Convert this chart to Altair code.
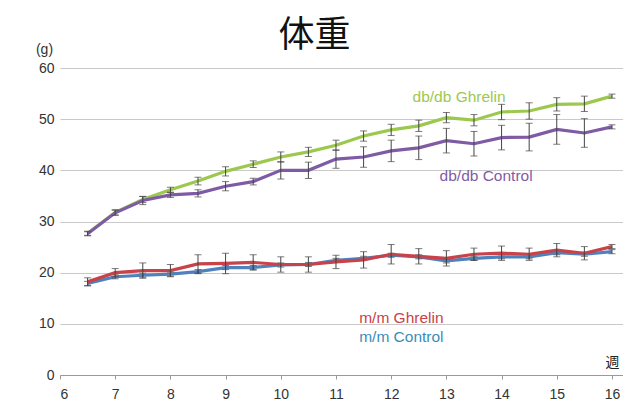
import altair as alt
import pandas as pd

# Age in weeks at each weighing
weeks = [6.5, 7, 7.5, 8, 8.5, 9, 9.5, 10, 10.5, 11, 11.5, 12, 12.5, 13, 13.5, 14, 14.5, 15, 15.5, 16]

# Mean body weight (g) and error (g) per group
db_ghrelin = [27.7, 31.8, 34.3, 36.2, 37.9, 39.8, 41.2, 42.6, 43.6, 44.9, 46.7, 47.9, 48.7, 50.3, 49.8, 51.4, 51.6, 52.9, 53.0, 54.5]
db_ghrelin_err = [0.4, 0.5, 0.6, 0.5, 0.75, 0.9, 0.65, 1.0, 0.9, 1.0, 1.0, 1.1, 1.1, 1.0, 1.1, 1.5, 1.6, 1.3, 1.5, 0.4]

db_control = [27.6, 31.7, 34.1, 35.2, 35.5, 36.9, 37.8, 40.0, 40.0, 42.2, 42.6, 43.8, 44.4, 45.8, 45.2, 46.4, 46.5, 48.0, 47.3, 48.5]
db_control_err = [0.4, 0.5, 0.8, 0.5, 0.7, 0.9, 0.65, 1.7, 1.6, 1.8, 2.0, 2.1, 2.3, 2.4, 2.4, 2.4, 2.7, 2.9, 2.8, 0.4]

mm_ghrelin = [18.2, 20.0, 20.4, 20.4, 21.7, 21.8, 22.0, 21.6, 21.6, 22.1, 22.5, 23.6, 23.2, 22.8, 23.6, 23.8, 23.6, 24.4, 23.8, 25.1]
mm_ghrelin_err = [0.8, 0.8, 1.5, 1.2, 1.8, 2.0, 1.5, 1.5, 1.5, 1.3, 1.6, 1.9, 1.5, 1.5, 1.2, 1.4, 1.2, 1.3, 1.3, 0.4]

mm_control = [17.9, 19.2, 19.5, 19.7, 20.2, 21.0, 21.0, 21.5, 21.6, 22.4, 22.8, 23.4, 23.1, 22.3, 22.8, 23.1, 23.1, 23.9, 23.6, 24.1]
mm_control_err = [0.4, 0.4, 0.4, 0.4, 0.4, 0.4, 0.4, 0.4, 0.4, 0.4, 0.4, 0.4, 0.4, 0.4, 0.4, 0.4, 0.4, 0.4, 0.4, 0.4]

x_ticks = [6, 6.5, 7, 7.5, 8, 8.5, 9, 9.5, 10, 10.5, 11, 11.5, 12, 12.5, 13, 13.5, 14, 14.5, 15, 15.5, 16]
y_ticks = [0, 10, 20, 30, 40, 50, 60]

# Drawing order: bottom to top
series = [
    ("m/m Control", mm_control, mm_control_err, "#4F81BD"),
    ("m/m Ghrelin", mm_ghrelin, mm_ghrelin_err, "#C8424A"),
    ("db/db Ghrelin", db_ghrelin, db_ghrelin_err, "#9CC84E"),
    ("db/db Control", db_control, db_control_err, "#7F5BA6"),
]

# Inline series names placed in data coordinates
label_names = ["db/db Ghrelin", "db/db Control", "m/m Ghrelin", "m/m Control"]
label_weeks = [13.23, 13.72, 11.42, 11.42]
label_values = [54.3, 38.9, 11.1, 7.4]
label_colors = ["#9CC84E", "#7F5BA6", "#C8424A", "#3A8DB8"]
label_align = ["center", "center", "left", "left"]

rows = []
for name, vals, errs, col in series:
    for w, v, e in zip(weeks, vals, errs):
        rows.append({"group": name, "week": w, "weight": v, "lo": v - e, "hi": v + e})
df = pd.DataFrame(rows)

x_scale = alt.Scale(domain=[6, 16.2], nice=False, zero=False)
y_scale = alt.Scale(domain=[0, 60], nice=False)

x_axis = alt.Axis(
    values=x_ticks,
    format="d",
    labelExpr="datum.value % 1 == 0 ? datum.label : ''",
    title="週", titleAngle=0, titleX=552, titleY=-6, titleAlign="center",
    titleBaseline="bottom", titleFontSize=14, titleFontWeight="normal",
    titleFont="Noto Sans CJK JP", titleColor="#222",
    grid=False, domainColor="#9a9a9a", tickColor="#9a9a9a", tickSize=4,
    labelFontSize=14, labelColor="#333", labelPadding=8, labelFont="Liberation Sans",
)
y_axis = alt.Axis(
    values=y_ticks,
    title="(g)", titleAngle=0, titleX=-16, titleY=-12, titleAlign="center",
    titleBaseline="bottom", titleFontSize=14, titleFontWeight="normal",
    titleFont="Liberation Sans", titleColor="#333",
    grid=True, gridColor="#c9c9c9", gridWidth=1, domain=False, ticks=False,
    labelFontSize=14, labelColor="#333", labelPadding=6, labelFont="Liberation Sans",
)


def X(field):
    return alt.X(field, type="quantitative", scale=x_scale, axis=x_axis)


def Y(field):
    return alt.Y(field, type="quantitative", scale=y_scale, axis=y_axis)


base = alt.Chart(df)
layers = []
for name, vals, errs, col in series:
    sub = base.transform_filter(alt.datum.group == name)
    line = sub.mark_line(strokeWidth=3.2, color=col).encode(x=X("week"), y=Y("weight"))
    rule = sub.mark_rule(color="#444", strokeWidth=1).encode(x=X("week"), y=Y("lo"), y2="hi:Q")
    cap_lo = sub.mark_tick(color="#444", orient="horizontal", size=7, thickness=1).encode(
        x=X("week"), y=Y("lo")
    )
    cap_hi = sub.mark_tick(color="#444", orient="horizontal", size=7, thickness=1).encode(
        x=X("week"), y=Y("hi")
    )
    layers += [line, rule, cap_lo, cap_hi]

labels_df = pd.DataFrame({"name": label_names, "week": label_weeks, "weight": label_values})
for i in range(len(label_names)):
    one = alt.Chart(labels_df.iloc[[i]]).mark_text(
        fontSize=15.5, font="Liberation Sans", align=label_align[i], baseline="middle",
        color=label_colors[i],
    ).encode(x=X("week"), y=Y("weight"), text="name:N")
    layers.append(one)

chart = alt.layer(*layers).properties(
    width=563,
    height=307,
    autosize=alt.AutoSizeParams(type="none"),
    padding={"left": 60, "top": 68, "right": 0, "bottom": 31},
    title=alt.TitleParams(
        "体重", font="Noto Sans CJK JP", fontSize=36, fontWeight="normal",
        color="#111", anchor="middle", dx=-27, dy=27, offset=14,
    ),
).configure(background="white").configure_view(stroke=None)

chart.save("out.html", embed_options={"renderer": "svg", "actions": False})
